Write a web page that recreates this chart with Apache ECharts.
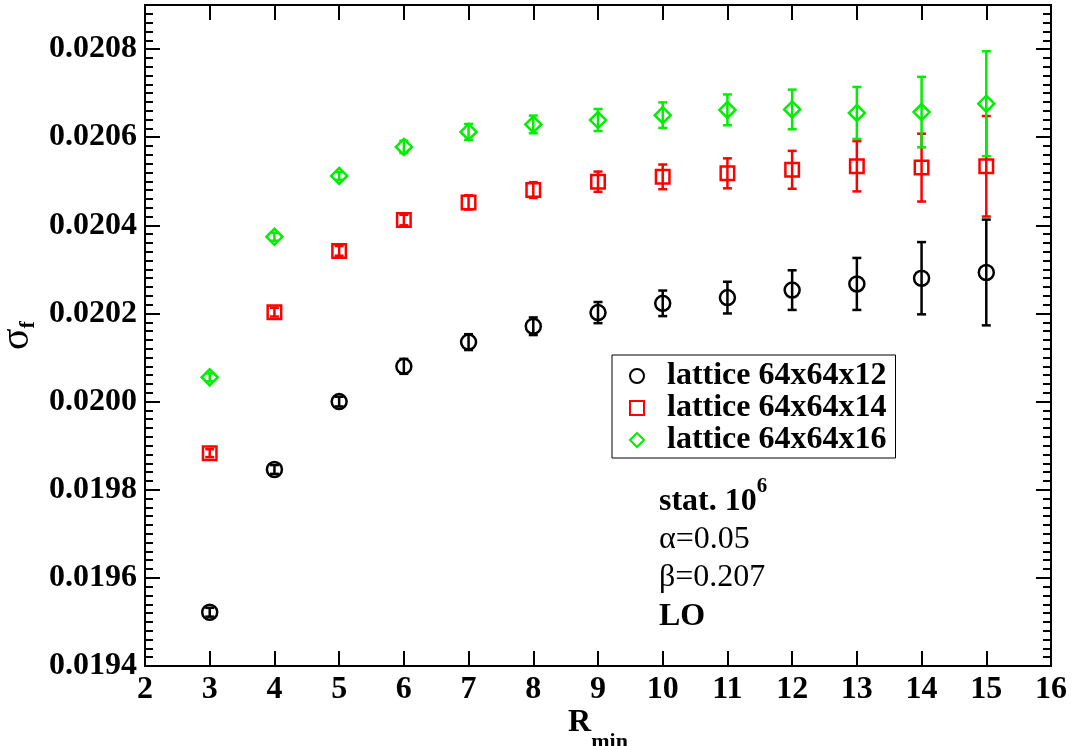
<!DOCTYPE html>
<html><head><meta charset="utf-8">
<script src="https://cdn.jsdelivr.net/npm/echarts@6/dist/echarts.min.js"></script>
<style>html,body{margin:0;padding:0;background:#fff}#c{width:1074px;height:746px}</style>
</head><body><div id="c"></div>
<script>
// ---- data ----
const rMin = [3, 4, 5, 6, 7, 8, 9, 10, 11, 12, 13, 14, 15];
const names = ['lattice 64x64x12', 'lattice 64x64x14', 'lattice 64x64x16'];
const sigma12 = [0.019522, 0.019846, 0.020000, 0.020080, 0.020135, 0.020171, 0.020202, 0.020223, 0.020236, 0.020253, 0.020267, 0.020280, 0.020293];
const err12   = [0.000010, 0.000010, 0.000011, 0.000017, 0.000018, 0.000020, 0.000024, 0.000029, 0.000036, 0.000045, 0.000059, 0.000082, 0.000120];
const sigma14 = [0.019883, 0.020203, 0.020342, 0.020412, 0.020452, 0.020480, 0.020499, 0.020510, 0.020518, 0.020526, 0.020534, 0.020531, 0.020534];
const err14   = [0.000009, 0.000010, 0.000011, 0.000012, 0.000016, 0.000018, 0.000023, 0.000028, 0.000034, 0.000043, 0.000057, 0.000077, 0.000114];
const sigma16 = [0.020055, 0.020374, 0.020512, 0.020578, 0.020612, 0.020629, 0.020639, 0.020650, 0.020662, 0.020663, 0.020655, 0.020657, 0.020676];
const err16   = [0.000009, 0.000009, 0.000009, 0.000014, 0.000018, 0.000020, 0.000025, 0.000029, 0.000035, 0.000045, 0.000059, 0.000080, 0.000119];
const xRange = [2, 16];
const yRange = [0.0194, 0.0209];
const yMajor = 0.0002;
const yMinor = 0.00002;
const notes = ['stat. 10', '6', 'α=0.05', 'β=0.207', 'LO'];

// ---- chart ----
const FONT = 'Liberation Serif';
const chart = echarts.init(document.getElementById('c'));
const colors = ['#000000', '#ff0000', '#00ee00'];
const symbols = ['circle', 'rect', 'diamond'];
const symSizes = [15, 13.5, 16];
const sets = [[sigma12, err12], [sigma14, err14], [sigma16, err16]];

function errSeries(i) {
  const data = rMin.map((x, k) => [x, sets[i][0][k], sets[i][1][k]]);
  const col = colors[i];
  return {
    type: 'custom', name: 'err' + i, xAxisIndex: 0, yAxisIndex: 0,
    encode: { x: 0, y: 1 }, data: data, z: 2 + i,
    renderItem: function (params, api) {
      const x = api.value(0), y = api.value(1), e = api.value(2);
      const t = api.coord([x, y + e]), b = api.coord([x, y - e]);
      const hw = 4.5;
      const st = { stroke: col, lineWidth: 2.5 };
      return { type: 'group', children: [
        { type: 'line', shape: { x1: t[0], y1: t[1], x2: b[0], y2: b[1] }, style: st },
        { type: 'line', shape: { x1: t[0] - hw, y1: t[1], x2: t[0] + hw, y2: t[1] }, style: st },
        { type: 'line', shape: { x1: b[0] - hw, y1: b[1], x2: b[0] + hw, y2: b[1] }, style: st }
      ]};
    }
  };
}
function ptSeries(i) {
  return {
    type: 'scatter', name: names[i], xAxisIndex: 0, yAxisIndex: 0,
    data: rMin.map((x, k) => [x, sets[i][0][k]]),
    symbol: symbols[i], symbolSize: symSizes[i], z: 5 + i,
    itemStyle: { color: 'rgba(0,0,0,0)', borderColor: colors[i], borderWidth: 2.5, opacity: 1 },
    emphasis: { disabled: true }
  };
}

const axLine = { show: true, lineStyle: { color: '#000', width: 2 } };
function yAx(pos, interval, len, labels) {
  return {
    type: 'value', position: pos, min: yRange[0], max: yRange[1], interval: interval,
    axisLine: axLine,
    axisTick: { show: true, inside: true, length: len, lineStyle: { color: '#000', width: 2 } },
    axisLabel: labels ? {
      show: true, showMaxLabel: false, margin: 8, color: '#000',
      fontFamily: FONT, fontSize: 32, fontWeight: 'bold',
      formatter: v => v.toFixed(4)
    } : { show: false },
    splitLine: { show: false }
  };
}

const yMain = yAx('left', yMajor, 15, true);
yMain.name = '{s|σ}{f|f}';
yMain.nameLocation = 'middle';
yMain.nameRotate = 90;
yMain.nameGap = 108;
yMain.nameMoveOverlap = false;
yMain.nameTextStyle = { rich: {
  s: { fontFamily: FONT, fontSize: 40, color: '#000', lineHeight: 40, verticalAlign: 'top' },
  f: { fontFamily: FONT, fontSize: 22, fontWeight: 'bold', color: '#000', lineHeight: 22, padding: [20, 0, 0, 0], verticalAlign: 'top' }
}};

const option = {
  animation: false,
  backgroundColor: '#fff',
  grid: { left: 145, right: 23, top: 5, bottom: 80, containLabel: false, outerBoundsMode: 'none' },
  xAxis: [
    {
      type: 'value', position: 'bottom', min: xRange[0], max: xRange[1], interval: 1,
      axisLine: axLine,
      axisTick: { show: true, inside: true, length: 15, lineStyle: { color: '#000', width: 2 } },
      axisLabel: { show: true, margin: 8, color: '#000', fontFamily: FONT, fontSize: 32, fontWeight: 'bold' },
      splitLine: { show: false },
      name: '{r|R}{m|min}', nameLocation: 'middle', nameGap: 41, nameMoveOverlap: false,
      nameTextStyle: { rich: {
        r: { fontFamily: FONT, fontSize: 32, fontWeight: 'bold', color: '#000', lineHeight: 32, verticalAlign: 'top' },
        m: { fontFamily: FONT, fontSize: 22, fontWeight: 'bold', color: '#000', lineHeight: 22, padding: [24, 0, 0, 0], verticalAlign: 'top' }
      }}
    },
    {
      type: 'value', position: 'top', min: xRange[0], max: xRange[1], interval: 1,
      axisLine: axLine,
      axisTick: { show: true, inside: true, length: 15, lineStyle: { color: '#000', width: 2 } },
      axisLabel: { show: false }, splitLine: { show: false }
    }
  ],
  yAxis: [ yMain, yAx('left', yMinor, 8, false), yAx('right', yMajor, 15, false), yAx('right', yMinor, 8, false) ],
  legend: {
    data: names, orient: 'vertical', left: 612, top: 355,
    itemWidth: 14, itemHeight: 14, itemGap: 0,
    padding: [5, 9, 2, 17],
    backgroundColor: '#fff', borderColor: '#000', borderWidth: 1, borderRadius: 0,
    selectedMode: false,
    itemStyle: { borderWidth: 2 },
    textStyle: { fontFamily: FONT, fontSize: 32, fontWeight: 'bold', color: '#000', lineHeight: 31, padding: [0, 0, 0, 18] }
  },
  graphic: [
    { type: 'text', left: 659, top: 476, z: 10, style: {
      text: '{a|' + notes[0] + '}{b|' + notes[1] + '}',
      rich: {
        a: { fontFamily: FONT, fontSize: 32, fontWeight: 'bold', fill: '#000', lineHeight: 32, padding: [10, 0, 0, 0], verticalAlign: 'top' },
        b: { fontFamily: FONT, fontSize: 21, fontWeight: 'bold', fill: '#000', lineHeight: 21, verticalAlign: 'top' }
      } } },
    { type: 'text', left: 659, top: 524, z: 10, style: { text: notes[2], fontFamily: FONT, fontSize: 32, fill: '#000' } },
    { type: 'text', left: 659, top: 562, z: 10, style: { text: notes[3], fontFamily: FONT, fontSize: 32, fill: '#000' } },
    { type: 'text', left: 659, top: 601, z: 10, style: { text: notes[4], fontFamily: FONT, fontSize: 32, fontWeight: 'bold', fill: '#000' } }
  ],
  series: [errSeries(0), errSeries(1), errSeries(2), ptSeries(0), ptSeries(1), ptSeries(2)]
};
chart.setOption(option);
</script></body></html>
